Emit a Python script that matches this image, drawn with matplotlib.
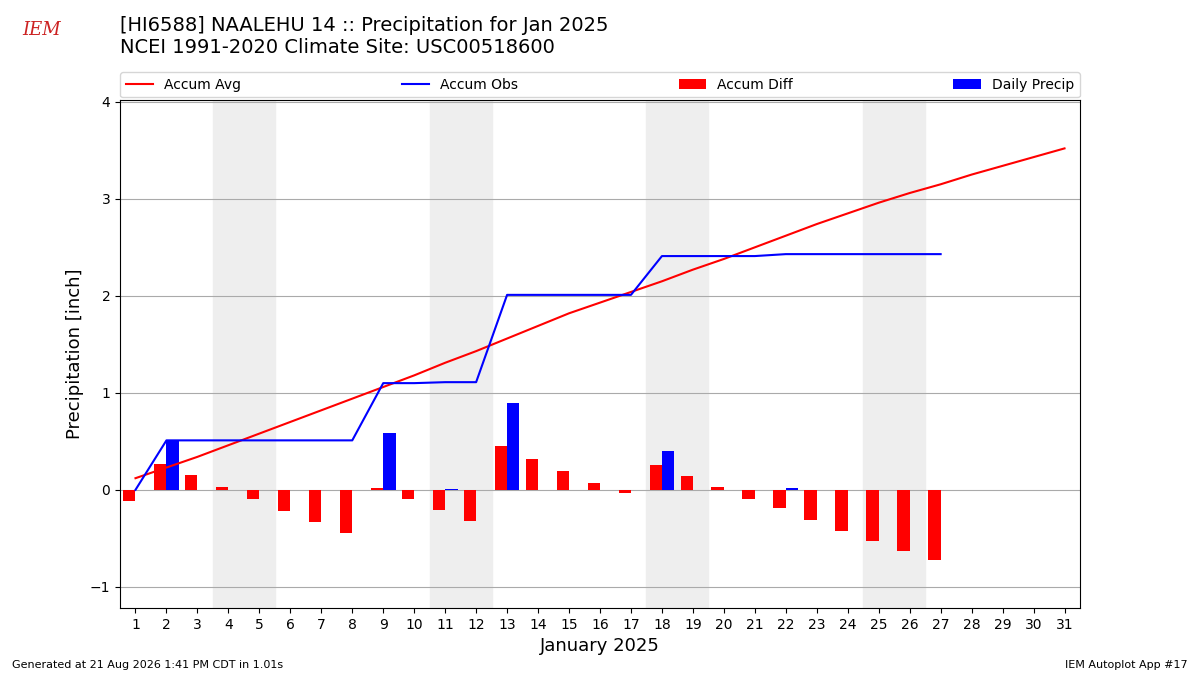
import matplotlib
matplotlib.use("Agg")
import matplotlib.pyplot as plt
import numpy as np

days = list(range(1, 32))
accum_avg = [0.12,0.23,0.34,0.46,0.58,0.70,0.82,0.94,1.06,1.18,1.31,1.43,1.56,1.69,1.82,1.93,2.04,2.15,2.27,2.38,2.50,2.62,2.74,2.85,2.96,3.06,3.15,3.25,3.34,3.43,3.52]
obs_days = list(range(1, 28))
accum_obs = [0.0,0.51,0.51,0.51,0.51,0.51,0.51,0.51,1.10,1.10,1.11,1.11,2.01,2.01,2.01,2.01,2.01,2.41,2.41,2.41,2.41,2.43,2.43,2.43,2.43,2.43,2.43]
daily = [0,0.51,0,0,0,0,0,0,0.59,0,0.01,0,0.90,0,0,0,0,0.40,0,0,0,0.02,0,0,0,0,0]
diff = [-0.12,0.27,0.15,0.03,-0.09,-0.22,-0.33,-0.45,0.02,-0.09,-0.21,-0.32,0.45,0.32,0.19,0.07,-0.03,0.26,0.14,0.03,-0.09,-0.19,-0.31,-0.42,-0.53,-0.63,-0.72]
weekends = [4, 11, 18, 25]

fig = plt.figure(figsize=(12, 6.75), dpi=100)
ax = fig.add_axes([0.1, 0.099, 0.8, 0.753])
for w in weekends:
    ax.axvspan(w - 0.5, w + 1.5, color="#eeeeee", zorder=0)
ax.grid(axis="y", color="#aaaaaa", lw=0.8, zorder=1)
ax.set_axisbelow(True)
ax.plot(days, accum_avg, color="red", label="Accum Avg", zorder=3)
ax.plot(obs_days, accum_obs, color="blue", label="Accum Obs", zorder=3)
ax.bar(np.array(obs_days) - 0.2, diff, width=0.4, color="red", label="Accum Diff", zorder=2)
ax.bar(np.array(obs_days) + 0.2, daily, width=0.4, color="blue", label="Daily Precip", zorder=2)
ax.set_xlim(0.5, 31.5)
ax.set_ylim(-1.22, 4.02)
ax.set_xticks(days)
ax.set_yticks([-1, 0, 1, 2, 3, 4])
ax.set_yticklabels(["\u22121", "0", "1", "2", "3", "4"])
ax.set_xlabel("January 2025", fontsize=13)
ax.set_ylabel("Precipitation [inch]", fontsize=13)
ax.legend(loc="lower left", bbox_to_anchor=(0, 1.005, 1, 0.05), ncol=4, mode="expand", fontsize=10, borderaxespad=0)
fig.text(0.1, 0.915, "[HI6588] NAALEHU 14 :: Precipitation for Jan 2025\nNCEI 1991-2020 Climate Site: USC00518600", fontsize=14, va="bottom", ha="left")
fig.text(0.01, 0.01, "Generated at 21 Aug 2026 1:41 PM CDT in 1.01s", fontsize=8)
fig.text(0.99, 0.01, "IEM Autoplot App #17", fontsize=8, ha="right")
fig.text(0.035, 0.955, "IEM", fontsize=13, color="#cc2222", style="italic", ha="center", va="center", family="DejaVu Serif")
fig.savefig("out.png")
